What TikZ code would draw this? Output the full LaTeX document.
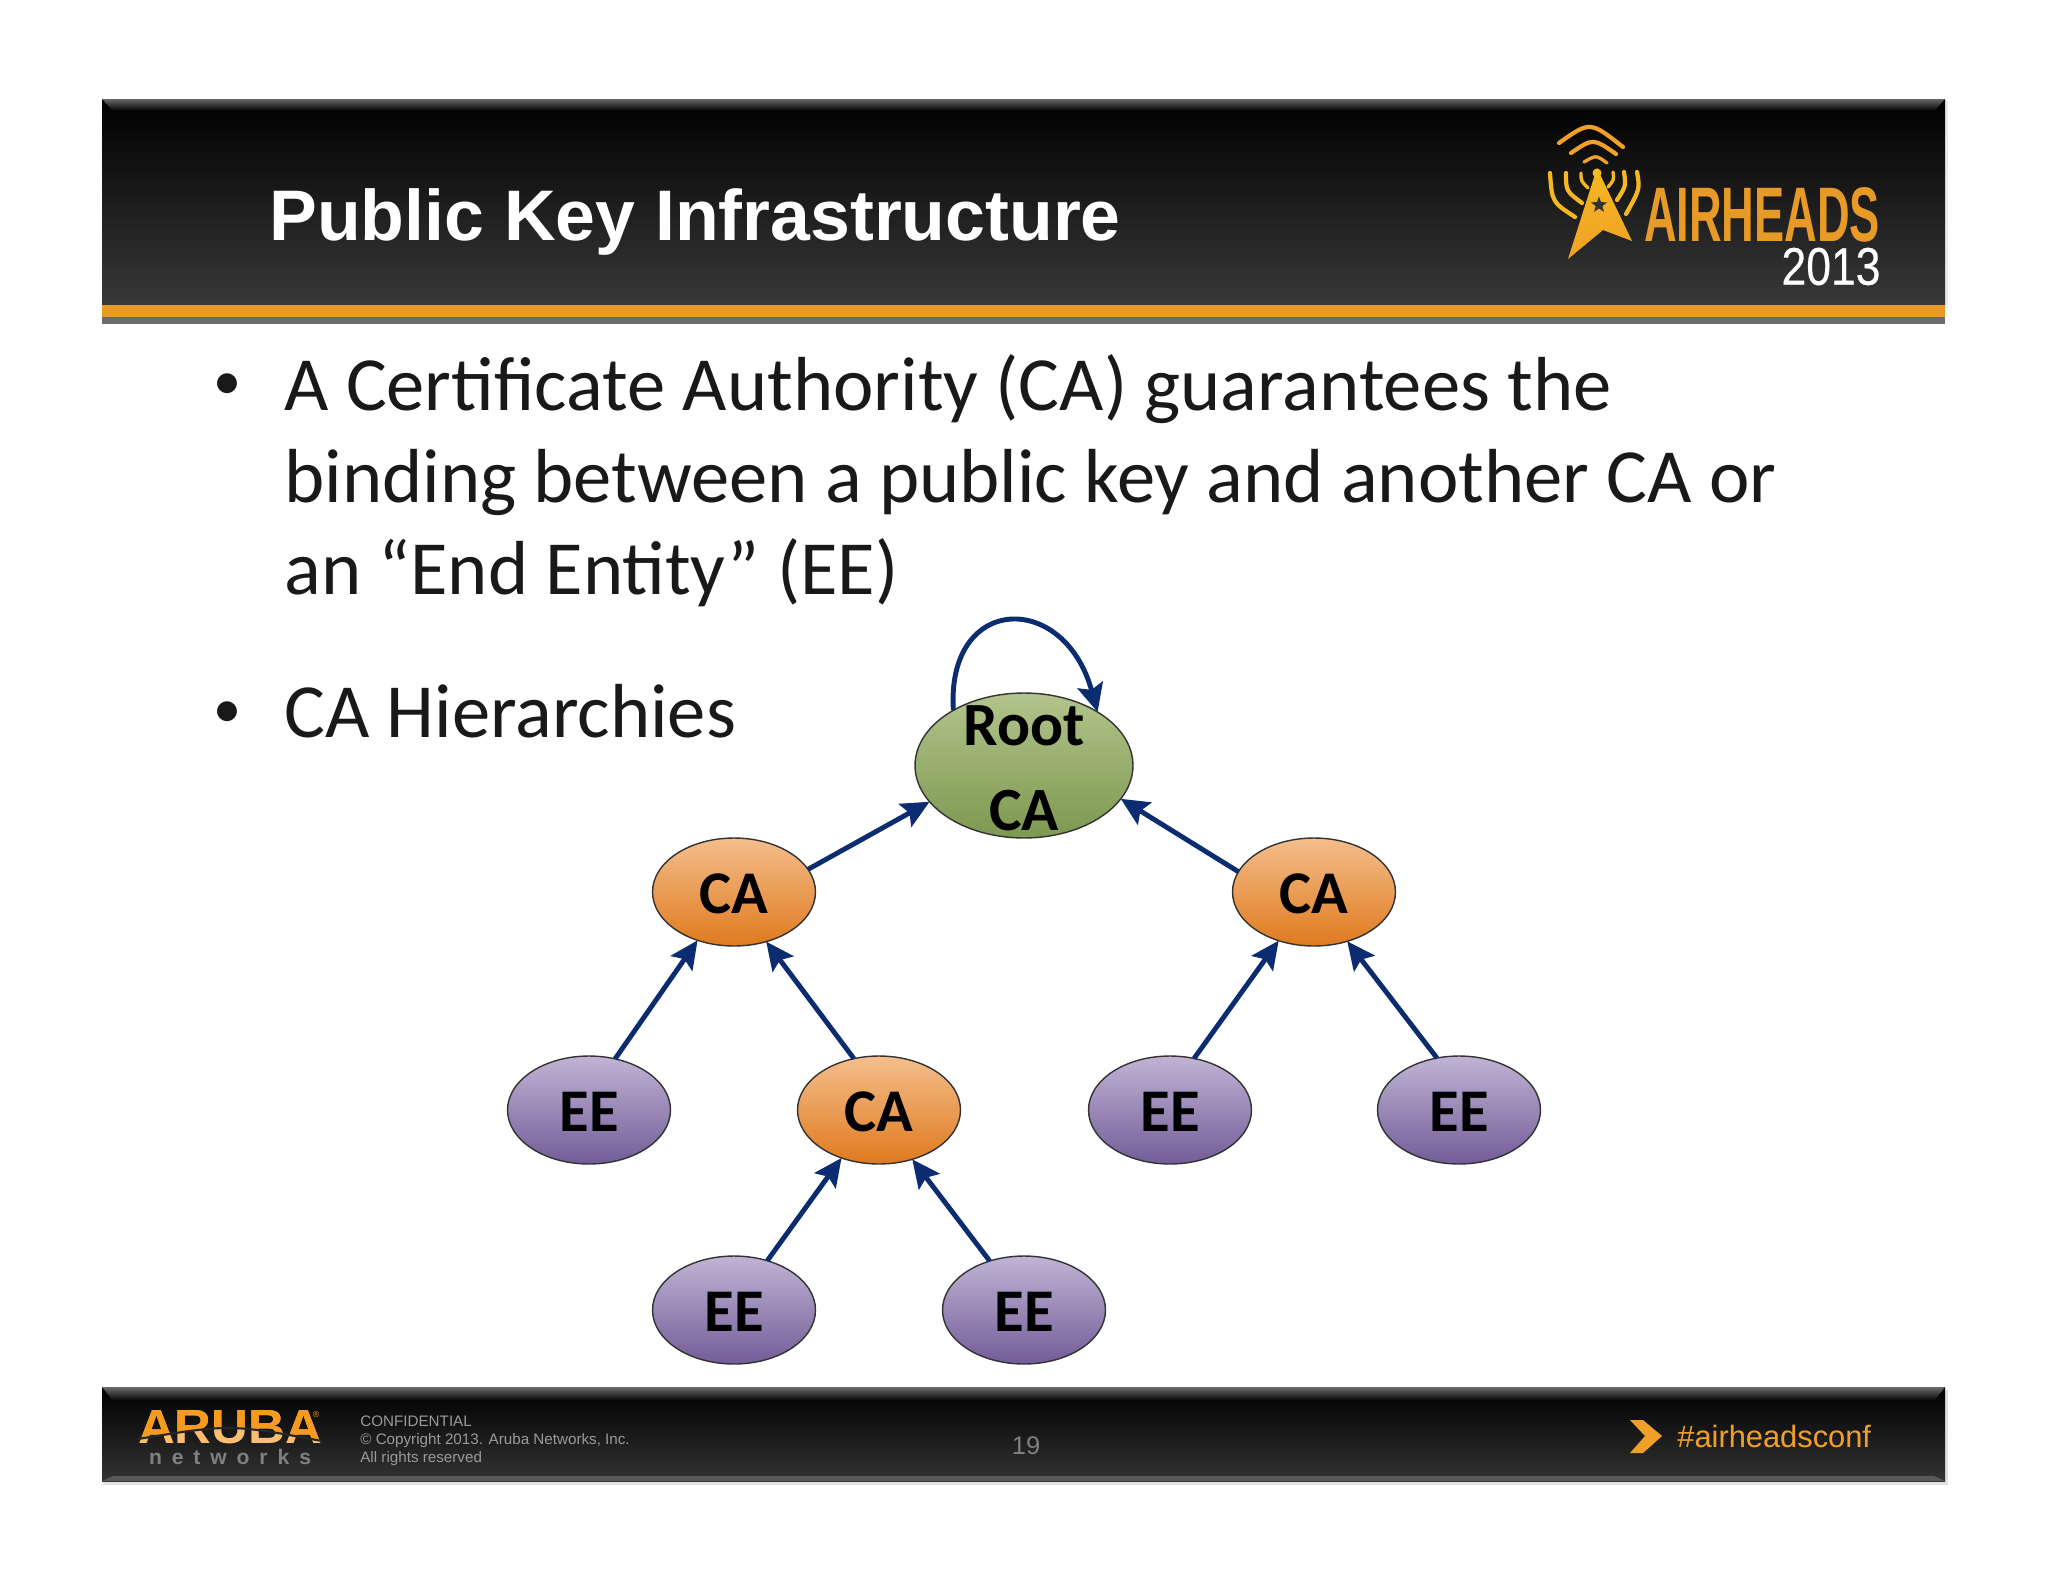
\documentclass[tikz,border=0pt]{standalone}
\usepackage{fontspec}
\setmainfont{Carlito}
\newfontfamily\arialfont{Liberation Sans}
\newfontfamily\arialfake[FakeBold=0.5]{Liberation Sans}
\usetikzlibrary{arrows.meta,shapes.geometric}
\definecolor{linkblue}{HTML}{0B2C70}
\definecolor{logoorange}{HTML}{F0A028}
\definecolor{logoyellow}{HTML}{F5B81E}
\definecolor{logolight}{HTML}{FBBE70}
\definecolor{logodark}{HTML}{F79A1E}
\definecolor{bandorange}{HTML}{E79A25}
\definecolor{footgray}{HTML}{9A9A9A}
\definecolor{catop}{HTML}{F4BE8C}
\definecolor{cabot}{HTML}{DF7A1E}
\definecolor{eetop}{HTML}{C0B4D4}
\definecolor{eebot}{HTML}{735C98}
\definecolor{roottop}{HTML}{B2C48C}
\definecolor{rootbot}{HTML}{7D9850}
\tikzset{
  caNode/.style={ellipse,draw=black!80,line width=0.8pt,minimum width=3.26cm,minimum height=2.16cm,inner sep=0pt,outer sep=0pt,top color=catop,bottom color=cabot,text height=25pt,text depth=0pt,font=\fontsize{34.5}{34.5}\selectfont\bfseries,text=black},
  eeNode/.style={caNode,top color=eetop,bottom color=eebot},
  rootNode/.style={caNode,minimum width=4.36cm,minimum height=2.9cm,top color=roottop,bottom color=rootbot},
  rootText/.style={font=\fontsize{35}{35}\selectfont\bfseries,text=black,inner sep=0pt},
  link/.style={draw=linkblue,line width=2.8pt,-{Stealth[length=0.56cm,width=0.52cm,inset=0.1cm]}},
  slideLine/.style={anchor=base west,inner sep=0pt,font=\fontsize{43.6}{52}\selectfont,text=black!90},
  slideDot/.style={inner sep=0pt,font=\fontsize{32}{32}\selectfont,text=black!90},
  footLine/.style={anchor=base west,inner sep=0pt,font=\arialfont\fontsize{8.65}{10}\selectfont,text=footgray},
  wave/.style={line width=2.4pt,line cap=round},
  smallwave/.style={line width=1.9pt,line cap=round},
}
\begin{document}
\begin{tikzpicture}[x=0.02cm,y=-0.02cm]
    \useasboundingbox[fill=white] (0,0) rectangle (2048,1582);
    % header band
    \fill[black!8] (104,101) rectangle (1948,308);
    \fill[black!58] (102,317) rectangle (1945,324);
    \fill[bandorange] (102,304) rectangle (1945,317);
    \shade[top color=black,bottom color=black!78] (102,99) rectangle (1945,304);
    \shade[top color=black!60,bottom color=black] (102,99) -- (1945,99) -- (1934,111) -- (113,111) -- cycle;
    % footer band
    \fill[black!12] (103,1390) rectangle (1948,1485);
    \shade[top color=black,bottom color=black!80] (102,1387) rectangle (1945,1481);
    \shade[top color=black!58,bottom color=black] (102,1387) -- (1945,1387) -- (1934,1401) -- (113,1401) -- cycle;
    \fill[black!65] (113,1476) -- (1934,1476) -- (1945,1481) -- (102,1481) -- cycle;
    % title
    \node[anchor=base west,inner sep=0pt,text=white,font=\arialfont\fontsize{40.75}{41}\selectfont\bfseries] (title) at (269,240) {Public Key Infrastructure};
    % airheads logo
    \draw[wave,logoorange] (1559,143) .. controls (1590,121) .. (1623,147);
    \draw[wave,logoorange] (1571,153) .. controls (1593,138) .. (1616,154);
    \draw[smallwave,logoorange] (1584,162) .. controls (1596,155) .. (1607,163);
    \draw[wave,logoyellow] (1550,173) .. controls (1552,202) .. (1575,217);
    \draw[wave,logoyellow] (1566,173) .. controls (1566,191) .. (1582,203);
    \draw[smallwave,logoyellow] (1581,173) .. controls (1581,181) .. (1588,188);
    \draw[wave,logoyellow] (1637,172) .. controls (1640,189) .. (1626,214);
    \draw[wave,logoyellow] (1624,172) .. controls (1626,186) .. (1617,200);
    \draw[smallwave,logoyellow] (1613,172) .. controls (1614,180) .. (1608,187);
    \shade[top color=logoyellow,bottom color=logoorange] (1597,168) -- (1632,241) -- (1603,230) -- (1568,259) -- cycle;
    \fill[logoyellow] (1597,173) circle (4.5);
    \node[star,star points=5,star point ratio=2.4,fill=black!80,inner sep=0pt,minimum size=0.34cm] (logostar) at (1599,205) {};
    \node[inner sep=0pt,text=bandorange,font=\arialfont\bfseries] (airheads) at (1762,215) {\resizebox{4.72cm}{1.08cm}{AIRHEADS}};
    \node[inner sep=0pt,text=white,font=\arialfake] (year) at (1831,266.5) {\resizebox{1.98cm}{0.74cm}{2013}};
    % slide text
    \node[slideDot] (dotone) at (227,387) {•};
    \node[slideLine] (lineone) at (284,410) {A Certificate Authority (CA) guarantees the};
    \node[slideLine] (linetwo) at (284,502) {binding between a public key and another CA or};
    \node[slideLine] (linethree) at (284,594) {an “End Entity” (EE)};
    \node[slideDot] (dottwo) at (227,715) {•};
    \node[slideLine] (linefour) at (284,737) {CA Hierarchies};
    % tree
    \node[rootNode] (root) at (1024,765.5) {};
    \node[rootText] (rootword) at (1024,726) {Root};
    \node[rootText] (rootca) at (1024,811) {CA};
    \node[caNode] (caleft) at (734,892) {CA};
    \node[caNode] (caright) at (1314,892) {CA};
    \node[caNode] (camid) at (879,1110) {CA};
    \node[eeNode] (eeone) at (589,1110) {EE};
    \node[eeNode] (eetwo) at (1170,1110) {EE};
    \node[eeNode] (eethree) at (1459,1110) {EE};
    \node[eeNode] (eefour) at (734,1310) {EE};
    \node[eeNode] (eefive) at (1024,1310) {EE};
    \draw[link] (root.142) .. controls (946,594) and (1064,590) .. (root.36);
    \draw[link] (caleft.17) -- (root.201);
    \draw[link] (caright.165) -- (root.-19);
    \draw[link] (eeone.63) -- (caleft.233);
    \draw[link] (camid.116) -- (caleft.303);
    \draw[link] (eetwo.65) -- (caright.234);
    \draw[link] (eethree.113) -- (caright.304);
    \draw[link] (eefour.56) -- (camid.232);
    \draw[link] (eefive.125) -- (camid.304);
    % aruba logo
    \node[inner sep=0pt,text=logolight,font=\arialfont\bfseries] (aruba) at (230,1427.5) {\resizebox{3.68cm}{0.66cm}{ARUBA}};
    \begin{scope}
      \clip (138,1439) .. controls (230,1424) .. (322,1441) -- (322,1400) -- (138,1400) -- cycle;
      \node[inner sep=0pt,text=logodark,font=\arialfont\bfseries] (arubatop) at (230,1427.5) {\resizebox{3.68cm}{0.66cm}{ARUBA}};
    \end{scope}
    \draw[black!85,line width=1.2pt] (138,1439) .. controls (230,1424) .. (322,1441);
    \node[inner sep=0pt,text=logoorange,font=\arialfont\fontsize{5}{5}\selectfont] (arubamark) at (316,1414) {®};
    \node[inner sep=0pt,text=black!50,font=\arialfont\bfseries\fontsize{12}{12}\selectfont] (networks) at (230,1457) {\makebox[3.24cm][s]{n\hfill e\hfill t\hfill w\hfill o\hfill r\hfill k\hfill s}};
    % footer text
    \node[footLine] (footone) at (360,1426) {CONFIDENTIAL};
    \node[footLine] (foottwo) at (360,1444) {© Copyright 2013. Aruba Networks, Inc.};
    \node[footLine] (footthree) at (360,1462) {All rights reserved};
    \node[inner sep=0pt,text=black!50,font=\arialfont\fontsize{14.5}{15}\selectfont] (pagenum) at (1026,1446) {19};
    \fill[logoorange] (1630,1420) -- (1643,1420) -- (1662,1436) -- (1643,1453) -- (1630,1453) -- (1645,1436) -- cycle;
    \node[anchor=base west,inner sep=0pt,text=logoorange,font=\arialfont\fontsize{17.55}{19}\selectfont] (hashtag) at (1677,1447) {\#airheadsconf};
\end{tikzpicture}
\end{document}
